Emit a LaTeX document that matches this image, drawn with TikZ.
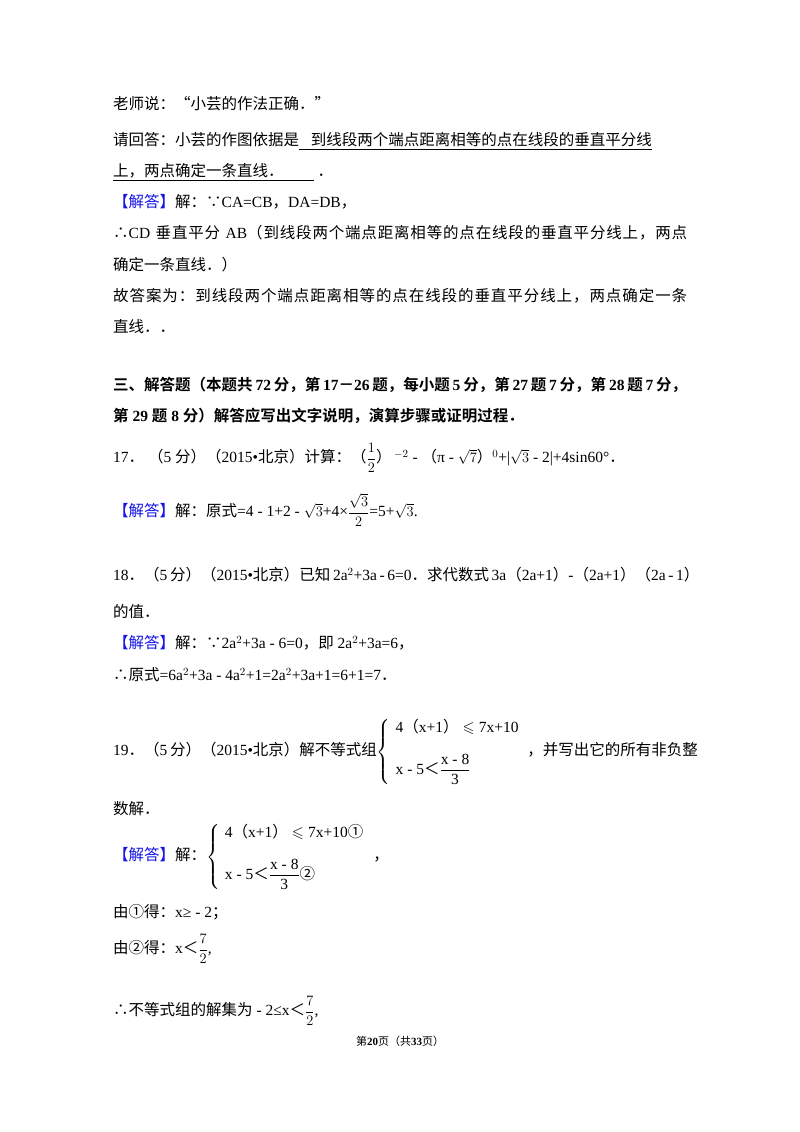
\documentclass[tikz,border=0pt]{standalone}
\usepackage{amsmath,amssymb}
\usepackage{fontspec}
\setmainfont{Liberation Serif}
\newfontfamily\cjk{Noto Sans CJK SC}[BoldFont={Noto Sans CJK SC Bold}]
\makeatletter
\XeTeXinterchartokenstate=1
\count@="3000
\loop\XeTeXcharclass\count@=3 \ifnum\count@<"9FFF \advance\count@ 1 \repeat
\count@="FF00
\loop\XeTeXcharclass\count@=3 \ifnum\count@<"FFEF \advance\count@ 1 \repeat
\count@="2460
\loop\XeTeXcharclass\count@=3 \ifnum\count@<"24FF \advance\count@ 1 \repeat
\XeTeXcharclass"2234=3 \XeTeXcharclass"2235=3
\XeTeXcharclass"201C=3 \XeTeXcharclass"201D=3
\makeatother
\XeTeXinterchartoks 0 3 = {\begingroup\cjk}
\XeTeXinterchartoks 4095 3 = {\begingroup\cjk}
\XeTeXinterchartoks 3 0 = {\endgroup}
\XeTeXinterchartoks 3 4095 = {\endgroup}
\definecolor{ansblue}{RGB}{20,20,230}
\tikzset{t/.style={anchor=west,inner sep=0pt,font=\fontsize{15.5}{18}\selectfont}}
\newcommand{\jd}{\textcolor{ansblue}{【解答】}}
\newcommand{\fullline}[1]{\hbox to 574pt{\XeTeXinterchartoks 3 3 = {\endgroup\hskip0pt plus 1pt}#1}}
\begin{document}
\begin{tikzpicture}[x=1pt,y=-1pt]
\useasboundingbox[fill=white] (0,0) rectangle (800,1132);
\node[t] (l1) at (113,104) {老师说：“小芸的作法正确．”};
\node[t] (l2) at (113,141) {请回答：小芸的作图依据是\underline{\ \ \ 到线段两个端点距离相等的点在线段的垂直平分线}};
\node[t] (l3) at (113,172) {\underline{上，两点确定一条直线．\hspace{30pt}}\ ．};
\node[t] (l4) at (113,202) {\jd 解：∵CA=CB，DA=DB，};
\node[t] (l5) at (113,233) {\fullline{∴CD 垂直平分 AB（到线段两个端点距离相等的点在线段的垂直平分线上，两点}};
\node[t] (l6) at (113,265) {确定一条直线．）};
\node[t] (l7) at (113,296) {\fullline{故答案为：到线段两个端点距离相等的点在线段的垂直平分线上，两点确定一条}};
\node[t] (l8) at (113,327) {直线．．};
\node[t] (l9) at (113,385) {\bfseries\fullline{三、解答题（本题共 72 分，第 17－26 题，每小题 5 分，第 27 题 7 分，第 28 题 7 分，}};
\node[t] (l10) at (113,416) {\bfseries 第 29 题 8 分）解答应写出文字说明，演算步骤或证明过程．};
\node[t] (l11) at (113,458) {17．\ （5 分）（2015•北京）计算：（$\dfrac{1}{2}$）\,${}^{-2}$ - （π - $\sqrt{7}$）${}^{0}$+|$\sqrt{3}$ - 2|+4sin60°．};
\node[t] (l12) at (113,510) {\jd 解：原式=4 - 1+2 - $\sqrt{3}$+4×$\dfrac{\sqrt{3}}{2}$=5+$\sqrt{3}$.};
\node[t] (l13) at (113,575) {\fullline{18．（5 分）（2015•北京）已知 2a$^2$+3a - 6=0．求代数式 3a（2a+1）-（2a+1）（2a - 1）}};
\node[t] (l14) at (113,612) {的值．};
\node[t] (l15) at (113,643) {\jd 解：∵2a$^2$+3a - 6=0，即 2a$^2$+3a=6，};
\node[t] (l16) at (113,675) {∴原式=6a$^2$+3a - 4a$^2$+1=2a$^2$+3a+1=6+1=7．};
\node[t] (l17) at (113,752) {\fullline{19．（5 分）（2015•北京）解不等式组$\left\{\begin{array}{l}\text{4（x+1）}\leqslant\text{7x+10}\\[16pt] \text{x - 5＜}\dfrac{\text{x - 8}}{\text{3}}\hspace{28pt}\end{array}\right.$\ ，并写出它的所有非负整}};
\node[t] (l18) at (113,809) {数解．};
\node[t] (l19) at (113,857) {\jd 解：$\left\{\begin{array}{l}\text{4（x+1）}\leqslant\text{7x+10①}\\[16pt] \text{x - 5＜}\dfrac{\text{x - 8}}{\text{3}}\text{②}\hspace{28pt}\end{array}\right.$\ ，};
\node[t] (l20) at (113,912) {由①得：x≥ - 2；};
\node[t] (l21) at (113,949) {由②得：x＜$\dfrac{7}{2}$,};
\node[t] (l22) at (113,1011) {∴不等式组的解集为 - 2≤x＜$\dfrac{7}{2}$,};
\node[t,anchor=center,font=\fontsize{11}{13}\selectfont] (ft) at (400,1041) {第\textbf{20}页（共\textbf{33}页）};
\end{tikzpicture}
\end{document}
